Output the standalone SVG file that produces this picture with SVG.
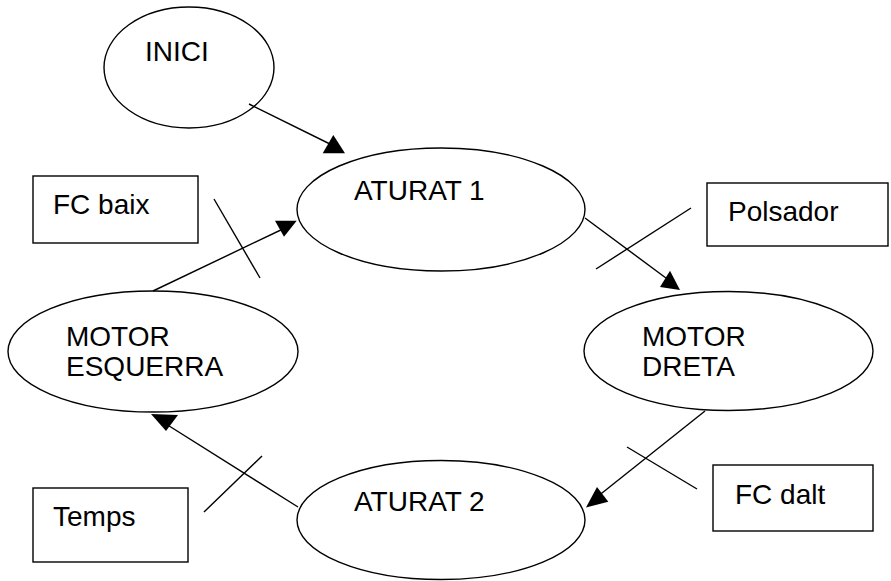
<svg xmlns="http://www.w3.org/2000/svg" width="891" height="581" viewBox="0 0 891 581">
<style>
.n{fill:#fff;stroke:#000;stroke-width:1.4}
.t{font-family:"Liberation Sans",Arial,sans-serif;font-size:28px;fill:#000}
.c line{stroke:#000;stroke-width:1.4}
.c polygon{fill:#000;stroke:none}
</style>
<rect width="891" height="581" fill="#fff"/>
<g id="inici"><ellipse class="n" cx="189" cy="67.5" rx="85" ry="60.5"/><text class="t" x="145" y="61">INICI</text></g>
<g id="aturat1"><ellipse class="n" cx="441" cy="209.5" rx="144" ry="61.5"/><text class="t" x="354" y="200">ATURAT 1</text></g>
<g id="motor-esquerra"><ellipse class="n" cx="153" cy="351.5" rx="145" ry="60.5"/><text class="t" x="66" y="346">MOTOR</text><text class="t" x="66" y="376">ESQUERRA</text></g>
<g id="motor-dreta"><ellipse class="n" cx="728.5" cy="351" rx="144.5" ry="59.5"/><text class="t" x="642" y="346">MOTOR</text><text class="t" x="642" y="376">DRETA</text></g>
<g id="aturat2"><ellipse class="n" cx="441" cy="520" rx="144" ry="59.5"/><text class="t" x="354" y="511">ATURAT 2</text></g>
<g id="fc-baix"><rect class="n" x="33" y="176" width="165" height="67"/><text class="t" x="53" y="214">FC baix</text></g>
<g id="polsador"><rect class="n" x="707" y="183" width="181" height="63"/><text class="t" x="728" y="221">Polsador</text></g>
<g id="temps"><rect class="n" x="33" y="488" width="155" height="74"/><text class="t" x="53" y="526">Temps</text></g>
<g id="fc-dalt"><rect class="n" x="713" y="465" width="160" height="66"/><text class="t" x="735" y="504">FC dalt</text></g>
<g class="c" id="connectors">
<line x1="249" y1="104" x2="334" y2="146"/>
<polygon points="333.3,135 322.7,153.3 345,153.3"/>
<line x1="153" y1="291" x2="285" y2="228"/>
<polygon points="275,220.7 296.7,220.7 284,236.7"/>
<line x1="585" y1="218" x2="670" y2="281"/>
<polygon points="670,270.7 660,287 680,290"/>
<line x1="705" y1="411" x2="597" y2="497"/>
<polygon points="597,487 608.3,501.7 586,507.5"/>
<line x1="298" y1="507" x2="166" y2="424"/>
<polygon points="151,414 178,415 166,431"/>
<line x1="214" y1="199" x2="260" y2="278"/>
<line x1="691" y1="208" x2="596" y2="269"/>
<line x1="627" y1="447" x2="697" y2="489"/>
<line x1="262" y1="456" x2="204" y2="512"/>
</g>
</svg>
